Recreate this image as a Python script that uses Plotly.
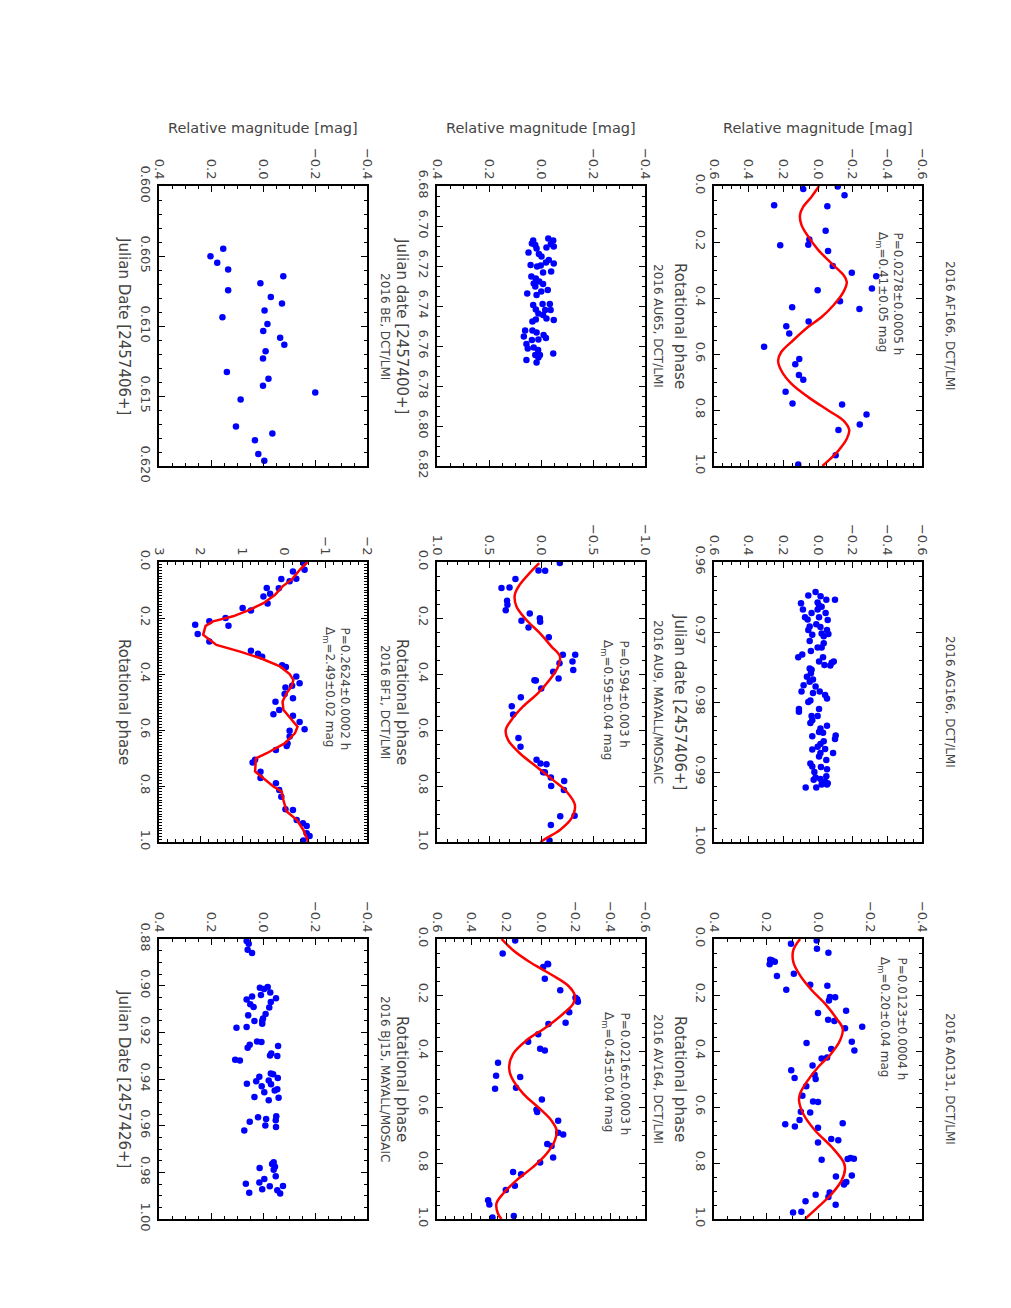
import plotly.graph_objects as go

W, H = 1011, 1308

# ---- 2016 AF166, DCT/LMI (rotational phase) ----
af166_phase = [0.011, 0.002, 0.033, 0.069, 0.072, 0.160, 0.191, 0.212, 0.210, 0.232, 0.286, 0.310,
               0.322, 0.366, 0.372, 0.412, 0.439, 0.433, 0.484, 0.501, 0.527, 0.574, 0.618, 0.637,
               0.675, 0.692, 0.735, 0.777, 0.780, 0.816, 0.852, 0.871, 0.962, 0.995]
af166_mag = [0.085, -0.114, -0.153, 0.253, -0.054, -0.044, 0.050, 0.218, 0.056, -0.058, -0.085, -0.195,
             -0.336, -0.311, 0.002, -0.127, -0.239, 0.149, 0.054, 0.183, 0.166, 0.311, 0.108, 0.131,
             0.110, 0.085, 0.187, 0.147, -0.139, -0.280, -0.241, -0.118, -0.102, 0.114]
af166_fit_phase = [0.000, 0.038, 0.074, 0.104, 0.140, 0.181, 0.229, 0.277, 0.318, 0.342, 0.378, 0.426,
                   0.468, 0.503, 0.551, 0.593, 0.623, 0.659, 0.706, 0.754, 0.802, 0.838, 0.871, 0.903,
                   0.945, 0.981, 1.000]
af166_fit_mag = [-0.006, 0.037, 0.085, 0.104, 0.095, 0.056, -0.002, -0.079, -0.147, -0.166, -0.147, -0.089,
                 -0.021, 0.056, 0.143, 0.212, 0.230, 0.212, 0.154, 0.056, -0.060, -0.147, -0.180, -0.166,
                 -0.118, -0.060, -0.025]

# ---- 2016 AG166, DCT/LMI (Julian date) ----
ag166_jd = [0.9643, 0.9648, 0.9649, 0.9654, 0.9654, 0.9658, 0.9659, 0.9662, 0.9664, 0.9668, 0.9668,
            0.9673, 0.9673, 0.9679, 0.9679, 0.9682, 0.9683, 0.9689, 0.9692, 0.9693, 0.9697, 0.9697,
            0.9702, 0.9703, 0.9704, 0.9706, 0.9713, 0.9716, 0.9722, 0.9722, 0.9727, 0.9732, 0.9736,
            0.9736, 0.9742, 0.9742, 0.9744, 0.9747, 0.9748, 0.9752, 0.9754, 0.9759, 0.9764, 0.9768,
            0.9771, 0.9776, 0.9778, 0.9785, 0.9785, 0.9790, 0.9787, 0.9795, 0.9798, 0.9800, 0.9810,
            0.9814, 0.9810, 0.9820, 0.9820, 0.9834, 0.9830, 0.9826, 0.9838, 0.9843, 0.9844, 0.9848,
            0.9853, 0.9849, 0.9856, 0.9860, 0.9864, 0.9868, 0.9867, 0.9873, 0.9873, 0.9878, 0.9883,
            0.9888, 0.9892, 0.9893, 0.9896, 0.9900, 0.9906, 0.9908, 0.9910, 0.9911, 0.9916, 0.9914,
            0.9918, 0.9918, 0.9922, 0.9922]
ag166_mag = [0.014, 0.056, -0.015, -0.098, -0.048, 0.002, 0.098, -0.006, -0.021, 0.087, 0.002,
             -0.044, 0.037, 0.075, -0.006, 0.060, -0.056, 0.010, 0.048, -0.014, 0.056, -0.052,
             -0.021, -0.060, 0.033, -0.033, 0.048, -0.033, -0.021, 0.002, 0.041, 0.091, 0.114,
             -0.029, -0.091, -0.006, -0.079, -0.037, -0.071, 0.048, 0.037, 0.041, 0.064, 0.029,
             0.048, 0.083, 0.014, 0.095, -0.010, -0.041, 0.029, -0.052, 0.044, 0.056, 0.110,
             0.110, -0.006, 0.037, 0.002, -0.052, 0.044, 0.033, -0.014, -0.006, -0.029, -0.102,
             -0.098, 0.033, -0.033, -0.014, 0.002, 0.033, -0.041, -0.014, -0.087, -0.006, -0.048,
             0.044, 0.033, -0.017, -0.052, 0.021, -0.048, 0.014, -0.014, 0.025, -0.056, -0.041,
             -0.021, -0.052, 0.071, 0.010]

# ---- 2016 AO131, DCT/LMI (rotational phase) ----
ao131_phase = [0.017, 0.005, 0.035, 0.049, 0.074, 0.077, 0.081, 0.090, 0.132, 0.124, 0.181, 0.163,
               0.167, 0.207, 0.220, 0.208, 0.256, 0.264, 0.288, 0.293, 0.319, 0.313, 0.371, 0.367,
               0.398, 0.393, 0.427, 0.423, 0.469, 0.496, 0.452, 0.485, 0.500, 0.526, 0.560, 0.580,
               0.582, 0.617, 0.620, 0.646, 0.662, 0.670, 0.674, 0.658, 0.714, 0.719, 0.727, 0.788,
               0.786, 0.782, 0.785, 0.848, 0.845, 0.871, 0.868, 0.877, 0.913, 0.905, 0.921, 0.949,
               0.937, 0.974, 0.977]
ao131_mag = [0.104, 0.005, 0.004, -0.040, 0.184, 0.176, 0.166, 0.186, 0.158, 0.093, 0.122, 0.030,
             -0.036, -0.046, -0.042, -0.066, -0.108, 0.000, -0.039, -0.063, -0.104, -0.170, 0.044, -0.130,
             -0.140, -0.051, -0.014, -0.035, 0.103, 0.090, 0.021, 0.013, 0.009, 0.045, 0.060, 0.019,
             0.000, 0.066, 0.030, 0.071, 0.126, 0.089, 0.000, -0.095, -0.051, -0.078, 0.000, -0.014,
             -0.114, -0.125, -0.138, -0.069, -0.130, -0.102, -0.109, -0.100, 0.009, -0.045, -0.040, -0.068,
             0.048, 0.064, 0.096]
ao131_fit_phase = [0.000, 0.040, 0.082, 0.130, 0.183, 0.231, 0.285, 0.320, 0.362, 0.415, 0.457, 0.511,
                   0.552, 0.576, 0.624, 0.683, 0.743, 0.796, 0.820, 0.862, 0.910, 0.957, 1.000]
ao131_fit_mag = [0.069, 0.095, 0.095, 0.069, 0.024, -0.027, -0.072, -0.095, -0.085, -0.046, -0.001, 0.044,
                 0.069, 0.073, 0.057, 0.012, -0.053, -0.098, -0.104, -0.091, -0.053, -0.001, 0.050]

# ---- 2016 AU65, DCT/LMI (Julian date) ----
au65_jd = [6.7062, 6.7073, 6.7073, 6.7090, 6.7103, 6.7087, 6.7095, 6.7107, 6.7112, 6.7133, 6.7140,
           6.7153, 6.7170, 6.7187, 6.7183, 6.7195, 6.7198, 6.7203, 6.7228, 6.7233, 6.7253, 6.7262,
           6.7278, 6.7287, 6.7290, 6.7303, 6.7320, 6.7328, 6.7337, 6.7345, 6.7395, 6.7390, 6.7390,
           6.7417, 6.7420, 6.7437, 6.7445, 6.7420, 6.7470, 6.7467, 6.7462, 6.7478, 6.7523, 6.7523,
           6.7533, 6.7545, 6.7553, 6.7567, 6.7560, 6.7570, 6.7590, 6.7607, 6.7620, 6.7613, 6.7645,
           6.7657, 6.7645, 6.7637, 6.7670, 6.7683]
au65_mag = [-0.028, -0.047, 0.030, -0.038, -0.049, 0.035, 0.022, -0.021, 0.017, 0.048, 0.008,
            -0.002, -0.030, -0.049, -0.019, 0.040, 0.001, 0.015, -0.039, -0.008, 0.037, 0.020,
            0.007, 0.028, -0.008, 0.022, -0.026, -0.001, 0.053, 0.017, 0.030, -0.006, -0.034,
            0.020, -0.016, 0.010, -0.008, -0.037, -0.049, 0.020, -0.021, 0.033, 0.061, 0.033,
            0.017, -0.010, 0.066, 0.010, -0.019, 0.035, 0.056, 0.028, 0.011, 0.051, 0.022,
            0.010, 0.004, -0.047, 0.056, 0.017]

# ---- 2016 AU9, MAYALL/MOSAIC (rotational phase) ----
au9_phase = [0.004, 0.030, 0.031, 0.061, 0.093, 0.091, 0.138, 0.153, 0.172, 0.184, 0.201, 0.213,
             0.210, 0.234, 0.269, 0.331, 0.331, 0.362, 0.355, 0.386, 0.392, 0.422, 0.423, 0.452,
             0.416, 0.483, 0.515, 0.545, 0.629, 0.660, 0.706, 0.720, 0.751, 0.751, 0.722, 0.770,
             0.800, 0.782, 0.814, 0.906, 0.908, 0.939, 0.995]
au9_mag = [-0.181, 0.024, -0.040, 0.246, 0.380, 0.303, 0.326, 0.323, 0.339, 0.108, 0.011, 0.008,
           0.188, 0.120, -0.075, -0.210, -0.329, -0.178, -0.303, -0.310, -0.117, 0.063, 0.050, -0.002,
           -0.169, 0.194, 0.281, 0.268, 0.217, 0.197, 0.043, 0.005, -0.021, -0.037, -0.053, -0.095,
           -0.098, -0.223, -0.220, -0.323, -0.185, -0.095, -0.082]
au9_fit_phase = [0.004, 0.039, 0.081, 0.117, 0.159, 0.207, 0.254, 0.302, 0.337, 0.373, 0.420, 0.468,
                 0.516, 0.564, 0.600, 0.636, 0.683, 0.731, 0.779, 0.820, 0.868, 0.915, 0.957, 0.986,
                 1.000]
au9_fit_mag = [0.018, 0.108, 0.204, 0.252, 0.236, 0.140, 0.011, -0.101, -0.182, -0.165, -0.085, 0.028,
               0.172, 0.284, 0.339, 0.316, 0.204, 0.043, -0.117, -0.246, -0.326, -0.294, -0.182, -0.053,
               0.005]

# ---- 2016 AV164, DCT/LMI (rotational phase) ----
av164_phase = [0.005, 0.052, 0.100, 0.088, 0.090, 0.142, 0.183, 0.210, 0.215, 0.224, 0.262, 0.299,
               0.304, 0.340, 0.367, 0.392, 0.398, 0.442, 0.488, 0.493, 0.535, 0.531, 0.573, 0.610,
               0.618, 0.649, 0.692, 0.698, 0.732, 0.739, 0.780, 0.798, 0.832, 0.840, 0.881, 0.896,
               0.933, 0.948, 0.995, 0.989]
av164_mag = [0.149, 0.221, -0.013, -0.038, -0.041, -0.022, -0.111, -0.199, -0.209, -0.213, -0.163, -0.142,
             -0.043, 0.016, 0.074, 0.005, -0.022, 0.248, 0.259, 0.120, 0.265, 0.144, -0.005, 0.026,
             0.022, -0.099, -0.099, -0.128, -0.036, -0.061, -0.070, 0.005, 0.161, 0.115, 0.151, 0.203,
             0.305, 0.298, 0.280, 0.157]
av164_fit_phase = [0.000, 0.040, 0.082, 0.124, 0.167, 0.202, 0.231, 0.267, 0.314, 0.362, 0.410, 0.457,
                   0.493, 0.552, 0.606, 0.648, 0.683, 0.719, 0.767, 0.814, 0.862, 0.910, 0.945, 0.981,
                   1.000]
av164_fit_mag = [0.228, 0.161, 0.065, -0.051, -0.157, -0.195, -0.186, -0.128, -0.032, 0.084, 0.161, 0.184,
                 0.171, 0.103, 0.007, -0.060, -0.090, -0.080, -0.032, 0.045, 0.142, 0.219, 0.257, 0.248,
                 0.228]

# ---- 2016 BE, DCT/LMI (Julian date) ----
be_jd = [0.60449, 0.60501, 0.60549, 0.60597, 0.60644, 0.60695, 0.60745, 0.60792, 0.60840, 0.60890,
         0.60938, 0.60986, 0.61036, 0.61084, 0.61134, 0.61181, 0.61232, 0.61329, 0.61377, 0.61427,
         0.61475, 0.61525, 0.61718, 0.61768, 0.61816, 0.61914, 0.61962]
be_mag = [0.153, 0.202, 0.176, 0.134, -0.078, 0.010, 0.134, -0.030, -0.073, -0.006,
          0.156, -0.017, -0.001, -0.066, -0.082, -0.010, 0.000, 0.139, -0.021, 0.000,
          -0.201, 0.086, 0.104, -0.036, 0.031, 0.018, -0.005]

# ---- 2016 BF1, DCT/LMI (rotational phase) ----
bf1_phase = [0.004, 0.028, 0.034, 0.060, 0.069, 0.061, 0.094, 0.093, 0.113, 0.123, 0.148, 0.164,
             0.173, 0.200, 0.212, 0.228, 0.224, 0.257, 0.284, 0.317, 0.328, 0.338, 0.369, 0.375,
             0.409, 0.433, 0.442, 0.448, 0.471, 0.487, 0.499, 0.529, 0.544, 0.549, 0.571, 0.603,
             0.597, 0.623, 0.648, 0.657, 0.671, 0.706, 0.716, 0.749, 0.771, 0.790, 0.814, 0.838,
             0.883, 0.886, 0.921, 0.933, 0.943, 0.969, 0.979, 0.995]
bf1_mag = [-0.47, -0.50, -0.22, -0.30, -0.14, 0.06, 0.12, 0.41, 0.33, 0.49, 0.39, 0.99,
           0.79, 1.40, 1.79, 1.33, 2.13, 2.07, 1.79, 0.79, 0.62, 0.52, 0.04, -0.05,
           -0.30, -0.38, -0.20, -0.04, -0.02, -0.22, 0.20, 0.11, 0.25, -0.22, -0.38, -0.14,
           -0.50, -0.14, -0.09, -0.07, 0.19, 0.69, 0.75, 0.56, 0.56, 0.19, 0.11, 0.06,
           -0.04, -0.22, -0.31, -0.46, -0.55, -0.55, -0.62, -0.47]
bf1_fit_phase = [0.000, 0.027, 0.063, 0.087, 0.117, 0.147, 0.170, 0.194, 0.212, 0.228, 0.260, 0.296,
                 0.320, 0.343, 0.373, 0.400, 0.421, 0.444, 0.468, 0.498, 0.528, 0.564, 0.588, 0.611,
                 0.647, 0.683, 0.701, 0.748, 0.772, 0.802, 0.820, 0.850, 0.891, 0.921, 0.957, 1.000]
bf1_fit_mag = [-0.57, -0.39, -0.19, 0.03, 0.21, 0.49, 0.81, 1.22, 1.70, 1.88, 1.94, 1.62,
               1.05, 0.57, 0.09, -0.14, -0.23, -0.19, -0.07, 0.03, 0.01, -0.19, -0.33, -0.27,
               -0.03, 0.41, 0.67, 0.69, 0.49, 0.25, 0.05, 0.01, -0.07, -0.31, -0.47, -0.59]

# ---- 2016 BJ15, MAYALL/MOSAIC (Julian date) ----
bj15_jd = [0.8809, 0.8820, 0.8846, 0.8860, 0.9009, 0.9006, 0.9014, 0.9029, 0.9040, 0.9059, 0.9054,
           0.9046, 0.9080, 0.9070, 0.9091, 0.9094, 0.9121, 0.9127, 0.9141, 0.9151, 0.9151, 0.9163,
           0.9180, 0.9177, 0.9241, 0.9239, 0.9259, 0.9266, 0.9253, 0.9291, 0.9301, 0.9299, 0.9317,
           0.9321, 0.9376, 0.9380, 0.9390, 0.9396, 0.9406, 0.9410, 0.9420, 0.9423, 0.9431, 0.9444,
           0.9449, 0.9457, 0.9477, 0.9480, 0.9491, 0.9560, 0.9564, 0.9571, 0.9577, 0.9583, 0.9599,
           0.9606, 0.9621, 0.9757, 0.9764, 0.9776, 0.9781, 0.9789, 0.9817, 0.9829, 0.9849, 0.9844,
           0.9860, 0.9859, 0.9877, 0.9873, 0.9887, 0.9891]
bj15_mag = [0.063, 0.055, 0.059, 0.042, 0.012, -0.018, -0.004, -0.028, 0.008, 0.063, -0.050,
            0.042, 0.049, -0.030, 0.036, -0.024, -0.010, 0.057, 0.000, 0.003, 0.033, 0.003,
            0.102, 0.063, 0.006, 0.023, -0.058, 0.059, 0.051, -0.032, -0.055, -0.027, 0.107,
            0.089, -0.030, -0.039, 0.014, -0.057, -0.022, 0.026, 0.062, -0.031, 0.005, -0.055,
            -0.045, -0.005, 0.033, -0.060, -0.022, -0.051, 0.019, -0.012, -0.049, 0.051, -0.009,
            -0.050, 0.072, -0.041, -0.035, -0.046, 0.013, -0.041, -0.049, -0.005, 0.066, 0.014,
            -0.026, -0.077, -0.055, 0.003, 0.053, -0.066]

PHASE = "Rotational phase"
MAG_TITLE = "Relative magnitude [mag]"
DM = "Δ<sub>m</sub>="

panels = [
    dict(title="2016 AF166, DCT/LMI", col=2, row=0, t=af166_phase, m=af166_mag,
         ft=af166_fit_phase, fm=af166_fit_mag, mr=(0.6, -0.6), md=0.2, mm=0.05, mf=".1f",
         tr=(0, 1), td=0.2, tm=0.05, tf=".1f", tt=PHASE,
         p="P=0.0278±0.0005 h", a=DM + "0.41±0.05 mag", pxy=(898, 882, 230)),
    dict(title="2016 AG166, DCT/LMI", col=2, row=1, t=ag166_jd, m=ag166_mag,
         mr=(0.6, -0.6), md=0.2, mm=0.05, mf=".1f",
         tr=(0.96, 1.0), td=0.01, tm=0.002, tf=".2f", tt="Julian date [2457406+]"),
    dict(title="2016 AO131, DCT/LMI", col=2, row=2, t=ao131_phase, m=ao131_mag,
         ft=ao131_fit_phase, fm=ao131_fit_mag, mr=(0.4, -0.4), md=0.2, mm=0.05, mf=".1f",
         tr=(0, 1), td=0.2, tm=0.05, tf=".1f", tt=PHASE,
         p="P=0.0123±0.0004 h", a=DM + "0.20±0.04 mag", pxy=(902, 884, 955)),
    dict(title="2016 AU65, DCT/LMI", col=1, row=0, t=au65_jd, m=au65_mag,
         mr=(0.4, -0.4), md=0.2, mm=0.05, mf=".1f",
         tr=(6.68, 6.82), td=0.02, tm=0.005, tf=".2f", tt="Julian date [2457400+]"),
    dict(title="2016 AU9, MAYALL/MOSAIC", col=1, row=1, t=au9_phase, m=au9_mag,
         ft=au9_fit_phase, fm=au9_fit_mag, mr=(1.0, -1.0), md=0.5, mm=0.1, mf=".1f",
         tr=(0, 1), td=0.2, tm=0.05, tf=".1f", tt=PHASE,
         p="P=0.594±0.003 h", a=DM + "0.59±0.04 mag", pxy=(624, 607, 638)),
    dict(title="2016 AV164, DCT/LMI", col=1, row=2, t=av164_phase, m=av164_mag,
         ft=av164_fit_phase, fm=av164_fit_mag, mr=(0.6, -0.6), md=0.2, mm=0.05, mf=".1f",
         tr=(0, 1), td=0.2, tm=0.05, tf=".1f", tt=PHASE,
         p="P=0.0216±0.0003 h", a=DM + "0.45±0.04 mag", pxy=(625, 608, 1010)),
    dict(title="2016 BE, DCT/LMI", col=0, row=0, t=be_jd, m=be_mag,
         mr=(0.4, -0.4), md=0.2, mm=0.05, mf=".1f",
         tr=(0.600, 0.620), td=0.005, tm=0.001, tf=".3f", tt="Julian Date [2457406+]"),
    dict(title="2016 BF1, DCT/LMI", col=0, row=1, t=bf1_phase, m=bf1_mag,
         ft=bf1_fit_phase, fm=bf1_fit_mag, linear=True, mr=(3, -2), md=1, mm=0.2, mf="d",
         tr=(0, 1), td=0.2, tm=0.01, tf=".1f", tt=PHASE,
         p="P=0.2624±0.0002 h", a=DM + "2.49±0.02 mag", pxy=(345, 329, 625)),
    dict(title="2016 BJ15, MAYALL/MOSAIC", col=0, row=2, t=bj15_jd, m=bj15_mag,
         mr=(0.4, -0.4), md=0.2, mm=0.05, mf=".1f",
         tr=(0.88, 1.0), td=0.02, tm=0.005, tf=".2f", tt="Julian Date [2457426+]"),
]

col_x = [(159, 367), (437, 645), (714, 922)]
row_y = [(186, 466), (562, 842), (939, 1219)]
title_x = [385, 658, 950]
axtitle_x = [124, 402, 680]

TXT = "#444444"
FONT = "DejaVu Sans"
OFF = 8  # page margin around the plot div


def px(x):
    return (x - OFF) / W


def py(y):
    return 1 - (y - OFF) / H


def note(text, x, y, size, angle=90, yanchor="middle"):
    return dict(
        text=text, x=px(x), y=py(y), xref="paper", yref="paper", textangle=angle,
        xanchor="center", yanchor=yanchor, showarrow=False,
        font=dict(family=FONT, size=size, color=TXT),
    )


fig = go.Figure()
annotations = []
layout = {}

for i, p in enumerate(panels, start=1):
    sfx = "" if i == 1 else str(i)
    x0, x1 = col_x[p["col"]]
    y0, y1 = row_y[p["row"]]

    fig.add_trace(go.Scatter(
        x=p["m"], y=p["t"], mode="markers",
        marker=dict(color="#0000ff", size=6.5),
        xaxis="x" + sfx, yaxis="y" + sfx, showlegend=False,
    ))
    if "ft" in p:
        fig.add_trace(go.Scatter(
            x=p["fm"], y=p["ft"], mode="lines",
            line=dict(color="#ff0000", width=2.5,
                      shape="linear" if p.get("linear") else "spline"),
            xaxis="x" + sfx, yaxis="y" + sfx, showlegend=False,
        ))

    common = dict(
        showgrid=False, zeroline=False, showline=True, linecolor="black", linewidth=2,
        mirror="ticks", ticks="inside", ticklen=6, tickwidth=1, tickcolor="black",
        tickangle=90, automargin=False, tickfont=dict(family=FONT, size=13, color=TXT),
    )
    layout["xaxis" + sfx] = dict(
        common, domain=[px(x0), px(x1)], anchor="y" + sfx, side="top",
        range=list(p["mr"]), tick0=0, dtick=p["md"], tickformat=p["mf"],
        minor=dict(dtick=p["mm"], ticks="inside", ticklen=3, tickcolor="black"),
    )
    layout["yaxis" + sfx] = dict(
        common, domain=[py(y1), py(y0)], anchor="x" + sfx, side="left",
        range=[p["tr"][1], p["tr"][0]], tick0=p["tr"][0], dtick=p["td"], tickformat=p["tf"],
        minor=dict(dtick=p["tm"], ticks="inside", ticklen=3, tickcolor="black"),
    )

    yc = (y0 + y1) / 2
    annotations.append(note(p["title"], title_x[p["col"]], yc, 12))
    annotations.append(note(p["tt"], axtitle_x[p["col"]], yc, 15))
    if p["row"] == 0:
        annotations.append(note(MAG_TITLE, (x0 + x1) / 2, 128, 14.5, angle=0))
    if "p" in p:
        xa, xb, ytop = p["pxy"]
        annotations.append(note(p["p"], xa, ytop, 12, yanchor="top"))
        annotations.append(note(p["a"], xb, ytop, 12, yanchor="top"))

fig.update_layout(
    template="none",
    width=W, height=H,
    margin=dict(l=0, r=0, t=0, b=0),
    paper_bgcolor="white", plot_bgcolor="white",
    annotations=annotations,
    **layout,
)

fig.write_html("out.html")
